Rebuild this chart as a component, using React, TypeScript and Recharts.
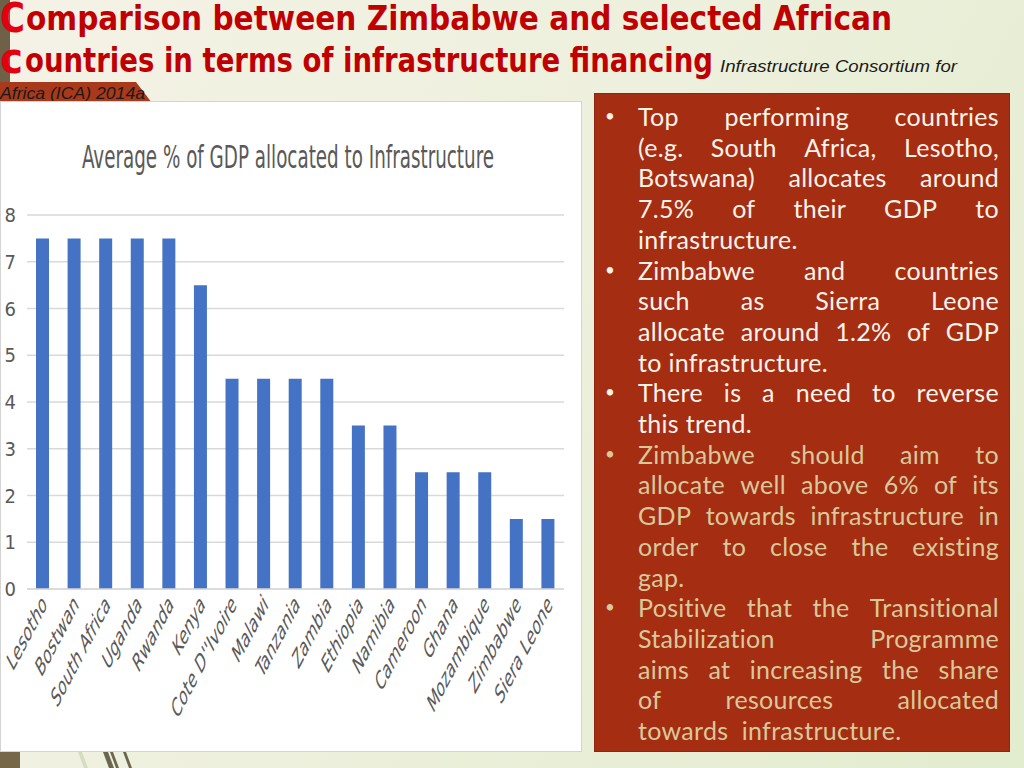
import React from 'react';
import { BarChart, Bar, XAxis, YAxis, CartesianGrid } from 'recharts';

const countries = [
  'Lesotho', 'Bostwan', 'South Africa', 'Uganda', 'Rwanda', 'Kenya', "Cote D''Ivoire",
  'Malawi', 'Tanzania', 'Zambia', 'Ethiopia', 'Namibia', 'Cameroon', 'Ghana',
  'Mozambique', 'Zimbabwe', 'Siera Leone',
];
const gdpShare = [7.5, 7.5, 7.5, 7.5, 7.5, 6.5, 4.5, 4.5, 4.5, 4.5, 3.5, 3.5, 2.5, 2.5, 2.5, 1.5, 1.5];
const yTicks = [0, 1, 2, 3, 4, 5, 6, 7, 8];

// bullet text, one entry per rendered line; j = justified line
const bulletLines: { t: string; j: boolean; bullet?: boolean; tan?: boolean }[] = [
  { t: 'Top performing countries', j: true, bullet: true },
  { t: '(e.g. South Africa, Lesotho,', j: true },
  { t: 'Botswana) allocates around', j: true },
  { t: '7.5% of their GDP to', j: true },
  { t: 'infrastructure.', j: false },
  { t: 'Zimbabwe and countries', j: true, bullet: true },
  { t: 'such as Sierra Leone', j: true },
  { t: 'allocate around 1.2% of GDP', j: true },
  { t: 'to infrastructure.', j: false },
  { t: 'There is a need to reverse', j: true, bullet: true },
  { t: 'this trend.', j: false },
  { t: 'Zimbabwe should aim to', j: true, bullet: true, tan: true },
  { t: 'allocate well above 6% of its', j: true, tan: true },
  { t: 'GDP towards infrastructure in', j: true, tan: true },
  { t: 'order to close the existing', j: true, tan: true },
  { t: 'gap.', j: false, tan: true },
  { t: 'Positive that the Transitional', j: true, bullet: true, tan: true },
  { t: 'Stabilization Programme', j: true, tan: true },
  { t: 'aims at increasing the share', j: true, tan: true },
  { t: 'of resources allocated', j: true, tan: true },
  { t: 'towards  infrastructure.', j: false, tan: true },
];

const data = countries.map((name, i) => ({ name, value: gdpShare[i] }));

const AXIS_FONT = '"Liberation Sans Narrow", "DejaVu Sans Condensed", "Liberation Sans", sans-serif';

const XTick = ({ x, y, payload }: any) => (
  <g transform={`translate(${x + 5},${y + 9})`}>
    <text
      transform="scale(1,1.9) rotate(-45)"
      textAnchor="end"
      fontSize={14}
      fill="#595959"
      fontFamily={AXIS_FONT}
    >
      {payload.value}
    </text>
  </g>
);

const YTick = ({ x, y, payload }: any) => (
  <text x={x} y={y} dy={7} textAnchor="end" fontSize={20} fill="#595959" fontFamily={AXIS_FONT}>
    {payload.value}
  </text>
);

export default function App() {
  return (
    <div
      style={{
        position: 'absolute',
        left: 0,
        top: 0,
        width: 1024,
        height: 768,
        overflow: 'hidden',
        background: 'linear-gradient(120deg, #f4f2e6 0%, #edf0dc 50%, #e2ecce 100%)',
      }}
    >
      {/* header */}
      <svg width={1024} height={110} style={{ position: 'absolute', left: 0, top: 0 }}>
        <rect x={0} y={0} width={10} height={82} fill="#6e6148" />
        <polygon points="0,82 136,82 152,103 0,103" fill="#a8391b" />
        <g fontFamily='"DejaVu Sans", sans-serif' fontWeight="bold">
          <text x={0} y={32} fontSize={41} fill="#e3000f" textLength={25} lengthAdjust="spacingAndGlyphs">C</text>
          <text x={26} y={30} fontSize={34} fill="#c00000" textLength={866} lengthAdjust="spacingAndGlyphs">
            omparison between Zimbabwe and selected African
          </text>
          <text x={0} y={73} fontSize={42} fill="#e3000f" textLength={23} lengthAdjust="spacingAndGlyphs">c</text>
          <text x={25} y={72} fontSize={34} fill="#c00000" textLength={688} lengthAdjust="spacingAndGlyphs">
            ountries in terms of infrastructure financing
          </text>
        </g>
        <g fontFamily='"Liberation Sans", sans-serif' fontStyle="italic" fill="#1a1a1a">
          <text x={720} y={72} fontSize={17} textLength={237} lengthAdjust="spacingAndGlyphs">
            Infrastructure Consortium for
          </text>
          <text x={0} y={99} fontSize={17} textLength={145} lengthAdjust="spacingAndGlyphs">
            Africa (ICA) 2014a
          </text>
        </g>
      </svg>

      {/* chart panel */}
      <div
        style={{
          position: 'absolute',
          left: 0,
          top: 101,
          width: 580,
          height: 649,
          background: '#ffffff',
          border: '1px solid #d4d4d4',
        }}
      >
        <svg width={580} height={100} style={{ position: 'absolute', left: 0, top: 0 }}>
          <text
            x={287}
            y={66}
            textAnchor="middle"
            fontSize={32}
            fill="#595959"
            fontFamily={AXIS_FONT}
            textLength={412}
            lengthAdjust="spacingAndGlyphs"
          >
            Average % of GDP allocated to Infrastructure
          </text>
        </svg>
        <BarChart
          width={580}
          height={649}
          data={data}
          margin={{ top: 113, right: 17, bottom: 0, left: 0 }}
          style={{ position: 'absolute', left: 0, top: 0 }}
        >
          <CartesianGrid vertical={false} stroke="#d9d9d9" strokeWidth={1.5} />
          <XAxis
            dataKey="name"
            interval={0}
            height={162}
            tick={<XTick />}
            tickLine={false}
            axisLine={{ stroke: '#d9d9d9', strokeWidth: 1.5 }}
          />
          <YAxis
            width={26}
            domain={[0, 8]}
            ticks={yTicks}
            tick={<YTick />}
            tickLine={false}
            tickSize={0}
            tickMargin={11}
            axisLine={false}
          />
          <Bar dataKey="value" fill="#4472c4" barSize={13} isAnimationActive={false} />
        </BarChart>
      </div>

      {/* text panel */}
      <div
        style={{
          position: 'absolute',
          left: 594,
          top: 93,
          width: 416,
          height: 659,
          background: '#a52d12',
          border: '1px solid #8c2610',
          boxSizing: 'border-box',
        }}
      >
        {bulletLines.map((ln, i) => {
          const color = ln.tan ? '#d8c99c' : '#fdf3ea';
          const top = 7 + i * 30.7;
          return (
            <React.Fragment key={i}>
              {ln.bullet && (
                <div
                  style={{
                    position: 'absolute',
                    left: 10,
                    top,
                    height: 30.7,
                    lineHeight: '30.7px',
                    fontFamily: 'Lato, sans-serif',
                    fontSize: 17,
                    color,
                  }}
                >
                  •
                </div>
              )}
              <div
                style={{
                  position: 'absolute',
                  left: 43,
                  top,
                  width: 361,
                  height: 30.7,
                  lineHeight: '30.7px',
                  fontFamily: 'Lato, sans-serif',
                  fontSize: 25,
                  letterSpacing: 0.3,
                  color,
                  whiteSpace: 'pre',
                  display: 'flex',
                  justifyContent: ln.j ? 'space-between' : 'flex-start',
                }}
              >
                {ln.j ? ln.t.split(' ').map((w, k) => <span key={k}>{w}</span>) : ln.t}
              </div>
            </React.Fragment>
          );
        })}
      </div>

      {/* bottom-left decoration */}
      <svg width={200} height={20} style={{ position: 'absolute', left: 0, top: 752 }}>
        <rect x={0} y={0} width={20} height={16} fill="#766748" />
        <polygon points="78,0 82,0 88,16 84,16" fill="#d6dcc0" />
        <polygon points="103,0 108,0 114,16 109,16" fill="#6b6650" />
        <polygon points="110,0 113,0 119,16 116,16" fill="#6b6650" />
        <polygon points="123,0 126,0 132,16 129,16" fill="#6b6650" />
      </svg>
    </div>
  );
}
